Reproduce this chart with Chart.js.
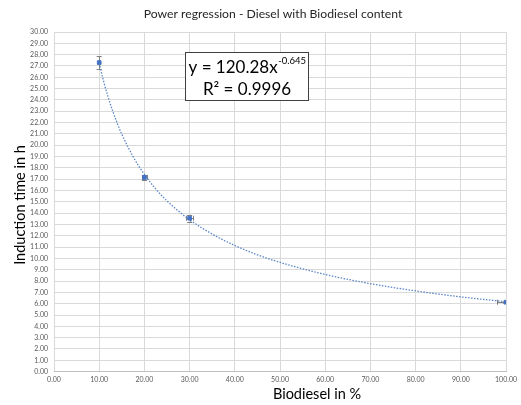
<!DOCTYPE html>
<html><head><meta charset="utf-8">
<script src="https://cdn.jsdelivr.net/npm/chart.js@4"></script>
<style>html,body{margin:0;padding:0;background:#fff}#w{width:521px;height:405px;position:relative}</style>
</head><body><div id="w"><canvas id="c" width="521" height="405"></canvas></div>
<script>
const biodieselPct = [10, 20, 30, 100];
const inductionTime = [27.3, 17.15, 13.55, 6.13];
const yErr = [0.55, 0.25, 0.3, 0.1];
const xErr = [0, 0.5, 0.8, 2];
const trendX = [10,11,12,13,14,15,17.5,20,22.5,25,27.5,30,35,40,45,50,60,70,80,90,100];
const trendY = [27.24,25.62,24.21,23.00,21.93,20.97,18.99,17.42,16.14,15.08,14.19,13.41,12.15,11.14,10.32,9.65,8.58,7.77,7.13,6.60,6.17];
const titleText = 'Power regression - Diesel with Biodiesel content';
const xTitle = 'Biodiesel in %';
const yTitle = 'Induction time in h';
const eqLine1 = 'y = 120.28x';
const eqExp = '-0.645';
const eqLine2 = 'R² = 0.9996';

const FONT = "Lato, 'Open Sans', sans-serif";
const blue = '#4472C4';

const errPlugin = {
  id: 'err',
  beforeDatasetsDraw(chart) {
    const ctx = chart.ctx, xs = chart.scales.x, ys = chart.scales.y, a = chart.chartArea;
    ctx.save();
    ctx.beginPath();
    ctx.rect(a.left, a.top - 5, a.right - a.left, a.bottom - a.top + 10);
    ctx.clip();
    ctx.strokeStyle = '#7f7f7f'; ctx.lineWidth = 1;
    biodieselPct.forEach((xv, i) => {
      const px = xs.getPixelForValue(xv), py = ys.getPixelForValue(inductionTime[i]);
      if (yErr[i] > 0) {
        const t = ys.getPixelForValue(inductionTime[i] + yErr[i]), b = ys.getPixelForValue(inductionTime[i] - yErr[i]);
        ctx.beginPath();
        ctx.moveTo(Math.round(px)+0.5, t); ctx.lineTo(Math.round(px)+0.5, b);
        ctx.moveTo(px-2.5, Math.round(t)+0.5); ctx.lineTo(px+2.5, Math.round(t)+0.5);
        ctx.moveTo(px-2.5, Math.round(b)+0.5); ctx.lineTo(px+2.5, Math.round(b)+0.5);
        ctx.stroke();
      }
      if (xErr[i] > 0) {
        const l = xs.getPixelForValue(xv - xErr[i]), r = xs.getPixelForValue(xv + xErr[i]);
        ctx.beginPath();
        ctx.moveTo(l, Math.round(py)+0.5); ctx.lineTo(r, Math.round(py)+0.5);
        ctx.moveTo(Math.round(l)+0.5, py-2.5); ctx.lineTo(Math.round(l)+0.5, py+2.5);
        ctx.moveTo(Math.round(r)+0.5, py-2.5); ctx.lineTo(Math.round(r)+0.5, py+2.5);
        ctx.stroke();
      }
    });
    ctx.restore();
  },
  afterDraw(chart) {
    const ctx = chart.ctx;
    ctx.save();
    // chart title
    ctx.fillStyle = '#262626';
    ctx.textAlign = 'center'; ctx.textBaseline = 'middle';
    ctx.font = "12.2px " + FONT;
    ctx.fillText(titleText, 273, 14);
    // x axis title
    ctx.fillStyle = '#000';
    ctx.font = "14.5px " + FONT;
    ctx.fillText(xTitle, 317, 394);
    // y axis title
    ctx.save();
    ctx.translate(20, 205);
    ctx.rotate(-Math.PI / 2);
    ctx.fillText(yTitle, 0, 0);
    ctx.restore();
    // equation box
    ctx.fillStyle = '#fff';
    ctx.fillRect(185, 52, 123, 48);
    ctx.strokeStyle = '#404040'; ctx.lineWidth = 1;
    ctx.strokeRect(185.5, 52.5, 123, 48);
    ctx.fillStyle = '#000';
    ctx.textAlign = 'left';
    ctx.textBaseline = 'alphabetic';
    ctx.font = "17px " + FONT;
    const w1 = ctx.measureText(eqLine1).width;
    ctx.font = "9.5px " + FONT;
    const w2 = ctx.measureText(eqExp).width;
    let x0 = 247 - (w1 + w2) / 2;
    ctx.font = "17px " + FONT;
    ctx.fillText(eqLine1, x0, 73);
    ctx.font = "9.5px " + FONT;
    ctx.fillText(eqExp, x0 + w1 + 0.5, 64);
    ctx.font = "17px " + FONT;
    ctx.textAlign = 'center';
    ctx.fillText(eqLine2, 247, 95);
    ctx.restore();
  }
};

new Chart(document.getElementById('c'), {
  type: 'scatter',
  data: {
    datasets: [
      {
        label: 'data',
        data: biodieselPct.map((x, i) => ({x, y: inductionTime[i]})),
        backgroundColor: blue, borderColor: blue,
        pointStyle: 'rect', pointRadius: 2.6, showLine: false, order: 0
      },
      {
        label: 'trend',
        data: trendX.map((x, i) => ({x, y: trendY[i]})),
        showLine: true, pointRadius: 0, borderColor: '#5B86C8',
        borderWidth: 1.3, borderDash: [1.5, 1.5], cubicInterpolationMode: 'monotone',
        fill: false, order: 1
      }
    ]
  },
  options: {
    responsive: false, animation: false, devicePixelRatio: 1,
    layout: { padding: { left: 0, right: 13, top: 32, bottom: 17 } },
    plugins: {
      legend: { display: false },
      tooltip: { enabled: false },
      title: { display: false }
    },
    scales: {
      x: {
        type: 'linear', min: 0, max: 100,
        ticks: { stepSize: 10, autoSkip: false, maxRotation: 0, color: '#595959',
          font: { family: FONT, size: 7 }, padding: 4, callback: v => v.toFixed(2) },
        grid: { color: '#d9d9d9', drawTicks: false },
        border: { color: '#bfbfbf' }
      },
      y: {
        min: 0, max: 30,
        ticks: { stepSize: 1, autoSkip: false, color: '#595959',
          font: { family: FONT, size: 7 }, padding: 6, callback: v => v.toFixed(2) },
        grid: { color: '#d9d9d9', drawTicks: false },
        border: { display: false },
        afterFit(s) { s.width = 54; }
      }
    }
  },
  plugins: [errPlugin]
});
</script>
</body></html>
